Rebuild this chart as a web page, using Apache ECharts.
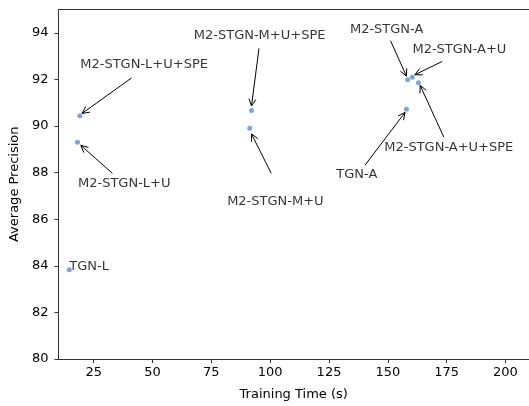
<!DOCTYPE html>
<html>
<head>
<meta charset="utf-8">
<script src="https://cdn.jsdelivr.net/npm/echarts@6/dist/echarts.min.js"></script>
<style>
  html, body { margin: 0; padding: 0; background: #fff; }
  #chart { width: 529px; height: 406px; }
</style>
</head>
<body>
<div id="chart"></div>
<script>
  // 方法名 / 训练时间 / AP
  const names = ["TGN-L", "M2-STGN-L+U", "M2-STGN-L+U+SPE", "M2-STGN-M+U", "M2-STGN-M+U+SPE",
    "TGN-A", "M2-STGN-A", "M2-STGN-A+U", "M2-STGN-A+U+SPE"];
  const trainTime = [14.6, 18.1, 19.1, 91.3, 92.05, 157.9, 158.4, 160.4, 163.0];
  const avgPrecision = [83.83, 89.30, 90.44, 89.90, 90.67, 90.72, 91.98, 92.09, 91.86];

  // annotation text anchors (data units)
  const labelX = [14.6, 37.96, 46.4, 102.2, 95.5, 136.8, 149.5, 180.4, 175.9];
  const labelY = [83.98, 87.54, 92.63, 86.77, 93.90, 87.90, 94.15, 93.26, 89.06];
  // arrows: from text edge to point
  const arrowFromX = [null, 32.94, 41.03, 100.44, 95.24, 140.3, 151.17, 173.1, 173.8];
  const arrowFromY = [null, 87.97, 92.06, 87.97, 93.33, 88.32, 93.66, 92.77, 89.52];
  const arrowToX = [null, 19.52, 20.06, 92.05, 92.05, 157.3, 157.9, 161.5, 163.75];
  const arrowToY = [null, 89.17, 90.54, 89.66, 90.86, 90.58, 92.14, 92.20, 91.74];

  const xTicks = [25, 50, 75, 100, 125, 150, 175, 200];
  const yTicks = [80, 82, 84, 86, 88, 90, 92, 94];

  const FONT = "DejaVu Sans";
  const INK = "#000";
  const SPINE = "#333";

  const chart = echarts.init(document.getElementById("chart"));

  const arrows = [];
  names.forEach((n, i) => {
    if (arrowFromX[i] == null) return;
    arrows.push([arrowFromX[i], arrowFromY[i], arrowToX[i], arrowToY[i]]);
  });

  const labels = names.map((n, i) => {
    const item = { name: n, value: [labelX[i], labelY[i]] };
    if (n === "TGN-L") item.label = { position: "right", distance: 0, align: "left" };
    return item;
  });

  function renderArrow(params, api) {
    const a = api.coord([api.value(0), api.value(1)]);
    const b = api.coord([api.value(2), api.value(3)]);
    const dx = b[0] - a[0], dy = b[1] - a[1];
    const len = Math.sqrt(dx * dx + dy * dy);
    const ux = dx / len, uy = dy / len;
    const hl = 7, hw = 3.5;
    const bx = b[0] - ux * hl, by = b[1] - uy * hl;
    const style = { stroke: INK, lineWidth: 1, fill: null };
    return {
      type: "group",
      children: [
        { type: "line", shape: { x1: a[0], y1: a[1], x2: b[0], y2: b[1] }, style },
        { type: "polyline", shape: { points: [[bx - uy * hw, by + ux * hw], b, [bx + uy * hw, by - ux * hw]] }, style },
      ],
    };
  }

  chart.setOption({
    animation: false,
    backgroundColor: "#fff",
    grid: { left: 56, right: -4, top: 9.5, bottom: 41.3, show: false },
    xAxis: [{
      type: "value", min: 10, max: 210,
      name: "Training Time (s)", nameLocation: "middle", nameGap: 29,
      nameTextStyle: { fontFamily: FONT, fontSize: 13, color: INK },
      axisLine: { show: true, lineStyle: { color: SPINE, width: 1 } },
      axisTick: { show: true, length: 4, customValues: xTicks, lineStyle: { color: SPINE } },
      axisLabel: { customValues: xTicks, margin: 7, fontFamily: FONT, fontSize: 13, color: INK },
      splitLine: { show: false },
    }, {
      // top spine only
      type: "value", min: 10, max: 210, position: "top",
      axisLine: { show: true, lineStyle: { color: SPINE, width: 1 } },
      axisTick: { show: false }, axisLabel: { show: false }, splitLine: { show: false },
    }],
    yAxis: {
      type: "value", min: 80, max: 95,
      name: "Average Precision", nameLocation: "middle", nameGap: 25,
      nameTextStyle: { fontFamily: FONT, fontSize: 13, color: INK },
      axisLine: { show: true, lineStyle: { color: SPINE, width: 1 } },
      axisTick: { show: true, length: 4, customValues: yTicks, lineStyle: { color: SPINE } },
      axisLabel: { customValues: yTicks, margin: 10, fontFamily: FONT, fontSize: 13, color: INK },
      splitLine: { show: false },
    },
    series: [
      {
        type: "scatter",
        data: trainTime.map((t, i) => [t, avgPrecision[i]]),
        symbolSize: 5,
        itemStyle: { color: "#7ea3d9", opacity: 1 },
        z: 3,
      },
      {
        type: "custom",
        data: arrows,
        renderItem: renderArrow,
        z: 4,
        silent: true,
      },
      {
        type: "scatter",
        data: labels,
        symbolSize: 0,
        silent: true,
        label: {
          show: true, position: "inside", formatter: "{b}",
          fontFamily: FONT, fontSize: 13, color: INK,
        },
        z: 5,
      },
    ],
  });
</script>
</body>
</html>
